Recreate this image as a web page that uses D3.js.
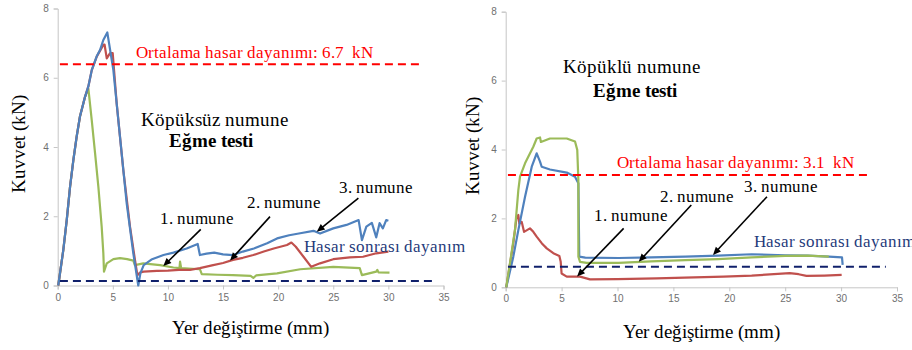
<!DOCTYPE html>
<html><head><meta charset="utf-8"><script src="https://cdn.jsdelivr.net/npm/d3@7"></script>
<style>
  @font-face { font-family: 'ChartSerif'; font-weight: normal; src: local('Liberation Serif'), local('LiberationSerif'), local('Times New Roman'); }
  @font-face { font-family: 'ChartSerif'; font-weight: bold; src: local('Liberation Serif Bold'), local('LiberationSerif-Bold'), local('Times New Roman Bold'); }
  text.note { font-family: 'ChartSerif', 'Liberation Serif', 'Times New Roman', serif; }
</style>
</head>
<body style="margin:0">
<svg id="chart" width="912" height="350"></svg>
<script>
// tick labels
const xTicks = [0, 5, 10, 15, 20, 25, 30, 35];
const yTicks = [0, 2, 4, 6, 8];

// left panel: Köpüksüz numune  ([mm, kN])
const leftNumune1 = [[0.05,0],[0.51,1.03],[0.82,1.89],[1.12,2.85],[1.42,3.62],[1.72,4.3],[2.02,4.88],[2.48,5.45],[2.78,5.69],[3.09,4.77],[3.39,3.82],[3.69,2.85],[3.99,1.7],[4.14,0.93],[4.2,0.4],[4.45,0.64],[5.05,0.76],[5.65,0.79],[6.3,0.76],[6.86,0.72],[7,0.59],[7.77,0.64],[9.28,0.59],[10.5,0.52],[11.05,0.5],[11.1,0.69],[11.2,0.5],[12.9,0.47],[13.07,0.33],[14.5,0.31],[15.9,0.3],[17.5,0.28],[17.75,0.22],[18,0.29],[19.9,0.35],[22,0.47],[25,0.54],[27.4,0.5],[27.6,0.3],[28.9,0.4],[29,0.45],[29.1,0.38],[30.1,0.37]];
const leftNumune2 = [[0.05,0],[0.51,1.03],[0.82,1.89],[1.12,2.85],[1.42,3.62],[1.72,4.3],[2.02,4.88],[2.48,5.45],[2.78,5.75],[3.09,6.22],[3.54,6.61],[4.14,6.95],[4.25,6.96],[4.45,6.56],[4.75,6.71],[4.99,6.71],[5.35,5.26],[5.95,3.34],[6.56,1.7],[7.01,0.74],[7.23,0.3],[7.5,0.38],[7.8,0.4],[9,0.42],[10,0.43],[11,0.45],[12,0.45],[12.9,0.5],[14,0.58],[15,0.65],[15.9,0.74],[16.8,0.8],[17.75,0.88],[18.7,0.98],[19.6,1.07],[20.8,1.17],[21.2,1.24],[21.6,1.12],[22.3,0.83],[23,0.54],[23.8,0.64],[25,0.76],[26.5,0.81],[27.7,0.83],[28.9,0.93],[30,0.98]];
const leftNumune3 = [[0.05,0],[0.51,1.03],[0.82,1.89],[1.12,2.85],[1.42,3.62],[1.72,4.3],[2.02,4.88],[2.48,5.45],[2.78,5.75],[3.09,6.22],[3.54,6.62],[3.84,6.8],[4.14,7.09],[4.5,7.31],[5.05,6.22],[5.65,4.3],[6.26,2.37],[6.86,0.93],[7.31,0],[7.5,0.35],[7.8,0.59],[8.5,0.75],[9.6,0.88],[10.5,0.95],[11.7,1.07],[12.7,1.2],[12.9,0.88],[13.5,0.92],[14.2,0.95],[15,0.9],[15.9,0.88],[16.8,0.98],[17.8,1.07],[19,1.22],[19.9,1.36],[21,1.45],[22,1.51],[23.2,1.58],[23.8,1.5],[25,1.65],[26.2,1.75],[27.3,1.89],[27.6,1.31],[28,1.7],[28.5,1.81],[28.9,1.39],[29.2,1.8],[29.5,1.65],[29.8,1.89],[30,1.87]];

// right panel: Köpüklü numune
const rightNumune1 = [[0.05,0],[0.68,1.28],[0.98,2.05],[1.13,2.1],[1.22,1.85],[1.43,1.9],[1.64,1.61],[2.17,1.71],[2.47,1.61],[2.77,1.47],[3.22,1.28],[3.67,1.13],[4.26,0.99],[4.8,0.91],[4.92,0.74],[5,0.4],[5.46,0.31],[6.65,0.31],[7.54,0.23],[10,0.24],[13.5,0.26],[16,0.28],[19.5,0.31],[22,0.34],[25.4,0.41],[26.2,0.38],[26.9,0.33],[28.5,0.34],[30.05,0.36]];
const rightNumune2 = [[0.05,0],[0.38,0.7],[0.83,1.66],[1.13,2.82],[1.28,3.21],[1.73,3.6],[2.02,3.79],[2.47,4.08],[2.77,4.32],[3.07,4.35],[3.15,4.22],[3.96,4.32],[5.46,4.32],[6.2,4.23],[6.4,3.99],[6.5,3.11],[6.5,0.89],[6.65,0.74],[7.24,0.71],[10.1,0.71],[13,0.75],[16.06,0.79],[19,0.82],[22,0.87],[25,0.91],[27,0.92],[28.9,0.89]];
const rightNumune3 = [[0.05,0],[0.68,0.89],[1.13,1.66],[1.73,2.63],[2.33,3.5],[2.77,3.89],[3.07,3.65],[3.22,3.5],[3.96,3.42],[5.46,3.33],[6.2,3.21],[6.5,3.02],[6.58,0.89],[7.12,0.86],[10.1,0.85],[13,0.87],[16.06,0.89],[19,0.92],[22,0.96],[25,0.93],[27,0.92],[28.9,0.89],[30.08,0.87],[30.14,0.65]];

// reference lines: [kN, x end]
const leftMean = [6.39, 33], leftPost = [0.13, 34.2];
const rightMean = [3.26, 32.4], rightPost = [0.6, 34.0];

// annotation texts
const titleLeft = ['Köpüksüz numune', 'Eğme testi'];
const titleRight = ['Köpüklü numune', 'Eğme testi'];
const meanLeftText = 'Ortalama hasar dayanımı: 6.7  kN';
const meanRightText = 'Ortalama hasar dayanımı: 3.1  kN';
const postText = 'Hasar sonrası dayanım';
const numuneLabels = ['1. numune', '2. numune', '3. numune'];

const colors = { blue: '#4f81bd', red: '#c0504d', green: '#9bbb59' };

const svg = d3.select('#chart');

const panels = [
  {
    x0: 57.7, x1: 443.5, y0: 285.5, y1: 8.5, xLabelY: 334, yLabelX: 25,
    series: [[leftNumune1, colors.green], [leftNumune2, colors.red], [leftNumune3, colors.blue]],
    mean: leftMean, post: leftPost, meanText: meanLeftText, title: titleLeft,
    meanPos: [7.1, 6.57], titlePos: [[7.57, 4.61], [10.1, 4.0]], postPos: [22.35, 0.97],
    labelPos: [[9.28, 1.78], [17.2, 2.24], [25.5, 2.67]],
    arrows: [[[12.98, 1.62], [9.58, 0.56]], [[19.26, 1.99], [15.64, 0.72]], [[27.28, 2.52], [23.5, 1.55]]]
  },
  {
    x0: 505.7, x1: 897, y0: 287.3, y1: 11.7, xLabelY: 338, yLabelX: 479,
    series: [[rightNumune1, colors.red], [rightNumune3, colors.blue], [rightNumune2, colors.green]],
    mean: rightMean, post: rightPost, meanText: meanRightText, title: titleRight,
    meanPos: [9.96, 3.46], titlePos: [[5.13, 6.22], [7.8, 5.52]], postPos: [22.2, 1.17],
    labelPos: [[7.9, 1.92], [13.8, 2.48], [21.3, 2.77]],
    arrows: [[[10.55, 1.71], [6.38, 0.31]], [[16.6, 2.39], [11.9, 0.74]], [[23.37, 2.63], [18.54, 0.94]]]
  }
];

// texts go straight onto the svg, after the marks
const texts = [];
function label(x, y, size, str, extra) {
  texts.push(Object.assign({ x: x, y: y, size: size, str: str }, extra || {}));
}

panels.forEach((p) => {
  const x = d3.scaleLinear().domain([0, 35]).range([p.x0, p.x1]);
  const y = d3.scaleLinear().domain([0, 8]).range([p.y0, p.y1]);

  const xAxis = svg.append('g')
    .attr('transform', 'translate(0,' + p.y0 + ')')
    .call(d3.axisBottom(x).tickValues(xTicks).tickSize(4).tickPadding(4));
  const yAxis = svg.append('g')
    .attr('transform', 'translate(' + p.x0 + ',0)')
    .call(d3.axisLeft(y).tickValues(yTicks).tickSize(4).tickPadding(5));
  [xAxis, yAxis].forEach((a) => {
    a.selectAll('path, line').attr('stroke', '#c6c6c6');
    a.selectAll('text').attr('fill', '#707070').attr('font-size', 10);
  });

  const line = d3.line().x((d) => x(d[0])).y((d) => y(d[1]));
  p.series.forEach(([data, color]) => {
    svg.append('path')
      .datum(data)
      .attr('d', line)
      .attr('fill', 'none')
      .attr('stroke', color)
      .attr('stroke-width', 2.2)
      .attr('stroke-linejoin', 'round');
  });

  [[p.mean, '#ff0000'], [p.post, '#10206b']].forEach(([ref, color]) => {
    svg.append('line')
      .attr('x1', x(0.2)).attr('x2', x(ref[1]))
      .attr('y1', y(ref[0])).attr('y2', y(ref[0]))
      .attr('stroke', color).attr('stroke-width', 2)
      .attr('stroke-dasharray', '8,5');
  });

  // arrows with a drawn head
  p.arrows.forEach(([from, to]) => {
    const x1 = x(from[0]), y1 = y(from[1]), x2 = x(to[0]), y2 = y(to[1]);
    const a = Math.atan2(y2 - y1, x2 - x1), L = 8, W = 3.5;
    const bx = x2 - L * Math.cos(a), by = y2 - L * Math.sin(a);
    svg.append('line')
      .attr('x1', x1).attr('y1', y1).attr('x2', bx + Math.cos(a)).attr('y2', by + Math.sin(a))
      .attr('stroke', '#000').attr('stroke-width', 1.6);
    svg.append('path')
      .attr('d', 'M' + x2 + ',' + y2 +
        'L' + (bx - W * Math.sin(a)) + ',' + (by + W * Math.cos(a)) +
        'L' + (bx + W * Math.sin(a)) + ',' + (by - W * Math.cos(a)) + 'Z')
      .attr('fill', '#000');
  });

  label(p.yLabelX, y(4.1), 19, 'Kuvvet (kN)', { anchor: 'middle', rotate: true });
  label(x(17.5), p.xLabelY, 19, 'Yer değiştirme (mm)', { anchor: 'middle' });
  label(x(p.meanPos[0]), y(p.meanPos[1]), 17, p.meanText, { fill: '#ff0000' });
  label(x(p.titlePos[0][0]), y(p.titlePos[0][1]), 19, p.title[0]);
  label(x(p.titlePos[1][0]), y(p.titlePos[1][1]), 19, p.title[1], { bold: true });
  label(x(p.postPos[0]), y(p.postPos[1]), 17, postText, { fill: '#1f3a7a' });
  numuneLabels.forEach((t, i) => {
    label(x(p.labelPos[i][0]), y(p.labelPos[i][1]), 17, t);
  });
});

svg.selectAll('text.note').data(texts).enter().append('text')
  .attr('class', 'note')
  .attr('x', (d) => d.rotate ? 0 : d.x)
  .attr('y', (d) => d.rotate ? 0 : d.y)
  .attr('transform', (d) => d.rotate ? 'translate(' + d.x + ',' + d.y + ') rotate(-90)' : null)
  .attr('text-anchor', (d) => d.anchor || 'start')
  .attr('font-size', (d) => d.size)
  .attr('font-weight', (d) => d.bold ? 'bold' : 'normal')
  .attr('fill', (d) => d.fill || '#000')
  .style('white-space', 'pre')
  .text((d) => d.str);
</script></body></html>
